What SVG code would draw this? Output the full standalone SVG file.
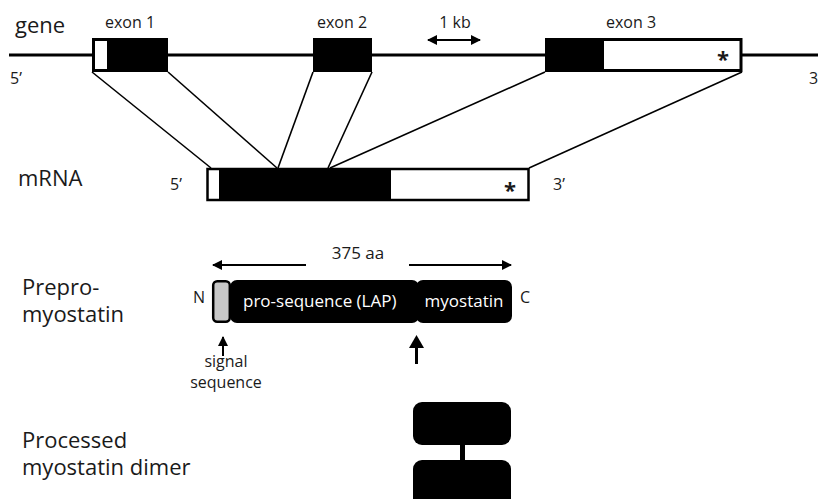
<svg xmlns="http://www.w3.org/2000/svg" width="818" height="499" viewBox="0 0 818 499">
<defs>
<style>
text{font-family:"Open Sans","Liberation Sans",sans-serif;fill:#1a1a1a}
.lbl{font-size:22px}
.sm{font-size:16px}
.md{font-size:17px}
.wt{font-size:17px;fill:#ffffff}
.ast{font-size:22px;font-weight:bold}
.ln{stroke:#000;stroke-width:1.6;fill:none}
.ar{stroke:#000;stroke-width:2;fill:none}
</style>
<marker id="ah" viewBox="0 0 10 10" refX="9" refY="5" markerWidth="10" markerHeight="10" markerUnits="userSpaceOnUse" orient="auto-start-reverse">
<path d="M0,0 L10,5 L0,10 z" fill="#000"/>
</marker>
</defs>
<rect width="818" height="499" fill="#ffffff"/>

<g id="labels">
<text class="lbl" x="15" y="33">gene</text>
<text class="sm" x="10" y="84">5’</text>
<text class="sm" x="809" y="84">3’</text>
<text class="lbl" x="18" y="186">mRNA</text>
<text class="lbl" x="22" y="295">Prepro-</text>
<text class="lbl" x="22" y="322">myostatin</text>
<text class="lbl" x="22" y="448">Processed</text>
<text class="lbl" x="22" y="475">myostatin dimer</text>
</g>

<g id="gene">
<line x1="9" y1="55" x2="818" y2="55" stroke="#000" stroke-width="3"/>
<line class="ar" x1="428" y1="40" x2="480" y2="40" marker-start="url(#ah)" marker-end="url(#ah)"/>
<text class="sm" x="455" y="28" text-anchor="middle">1 kb</text>
</g>

<g id="connectors">
<line class="ln" x1="92" y1="72" x2="211" y2="168"/>
<line class="ln" x1="168" y1="72" x2="277" y2="168"/>
<line class="ln" x1="313" y1="72" x2="278" y2="168"/>
<line class="ln" x1="372" y1="72" x2="328" y2="168"/>
<line class="ln" x1="545" y1="72" x2="330" y2="168"/>
<line class="ln" x1="742" y1="72" x2="529" y2="168"/>
</g>

<g id="exon1">
<text class="sm" x="130" y="28" text-anchor="middle">exon 1</text>
<rect x="92" y="38" width="76" height="34" fill="#000"/>
<rect x="95" y="41" width="12" height="28" fill="#fff"/>
</g>

<g id="exon2">
<text class="sm" x="342" y="28" text-anchor="middle">exon 2</text>
<rect x="313" y="38" width="59" height="34" fill="#000"/>
</g>

<g id="exon3">
<text class="sm" x="631" y="28" text-anchor="middle">exon 3</text>
<rect x="546.5" y="39.5" width="194.5" height="31" fill="#fff" stroke="#000" stroke-width="3"/>
<rect x="545" y="38" width="59" height="34" fill="#000"/>
<text class="ast" x="723" y="67" text-anchor="middle">*</text>
</g>

<g id="mrna">
<text class="sm" x="170" y="190">5’</text>
<rect x="207.5" y="169" width="321" height="31" fill="#fff" stroke="#000" stroke-width="2.5"/>
<rect x="219" y="169" width="172" height="31" fill="#000"/>
<text class="ast" x="510" y="198" text-anchor="middle">*</text>
<text class="sm" x="553" y="190">3’</text>
</g>

<g id="preprotein">
<line class="ar" x1="306" y1="265" x2="213" y2="265" marker-end="url(#ah)"/>
<line class="ar" x1="409" y1="265" x2="511" y2="265" marker-end="url(#ah)"/>
<text class="md" x="358" y="259" text-anchor="middle">375 aa</text>
<text class="sm" x="193" y="303">N</text>
<text class="sm" x="520" y="303">C</text>
<rect x="230" y="280" width="189" height="43" rx="7" fill="#000"/>
<rect x="416" y="280" width="96" height="43" rx="7" fill="#000"/>
<rect x="213.2" y="281.2" width="16.6" height="40.6" rx="4" fill="#c8c8c8" stroke="#000" stroke-width="2.5"/>
<text class="wt" x="243" y="307">pro-sequence (LAP)</text>
<text class="wt" x="464" y="307" text-anchor="middle">myostatin</text>
</g>

<g id="signal">
<line class="ar" x1="223" y1="356" x2="223" y2="337" marker-end="url(#ah)"/>
<text class="sm" x="226" y="367" text-anchor="middle">signal</text>
<text class="sm" x="226" y="388" text-anchor="middle">sequence</text>
</g>

<g id="cleavage">
<line x1="416.5" y1="364" x2="416.5" y2="345" stroke="#000" stroke-width="3"/>
<path d="M409,348 L416.5,335 L424,348 z" fill="#000"/>
</g>

<g id="dimer">
<rect x="413" y="402" width="98" height="43" rx="9" fill="#000"/>
<rect x="460" y="444" width="5" height="17" fill="#000"/>
<rect x="413" y="460" width="98" height="52" rx="9" fill="#000"/>
</g>
</svg>
